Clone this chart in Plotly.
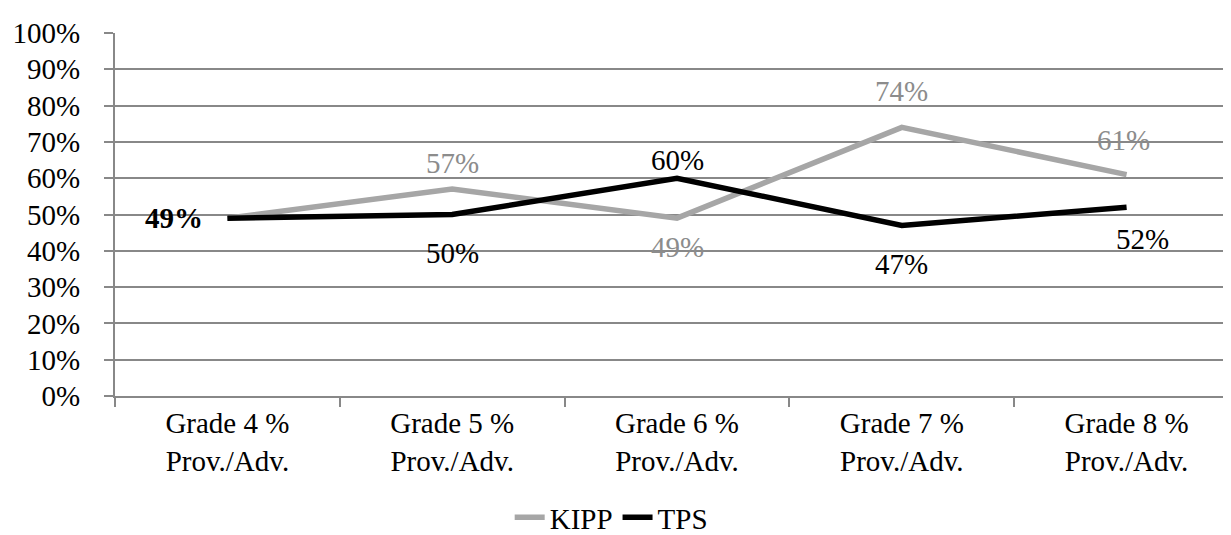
import plotly.graph_objects as go

categories = ["Grade 4 %<br>Prov./Adv.", "Grade 5 %<br>Prov./Adv.", "Grade 6 %<br>Prov./Adv.",
              "Grade 7 %<br>Prov./Adv.", "Grade 8 %<br>Prov./Adv."]
kipp = [49, 57, 49, 74, 61]
tps = [49, 50, 60, 47, 52]
y_ticks = [0, 10, 20, 30, 40, 50, 60, 70, 80, 90, 100]

FONT = "Liberation Serif"
FS = 29
KIPP_LINE = "#A6A6A6"
KIPP_TEXT = "#8C8C8C"

# label offsets (pixels) per point: (show, xshift, yshift)
kipp_lbl = [(False, 0, 0), (True, 0, 26), (True, 0, -29), (True, 0, 36), (True, -3, 35)]
tps_lbl = [(True, -22, 0), (True, 0, -38), (True, 0, 18), (True, 0, -39), (True, 16, -32)]

fig = go.Figure()
fig.add_trace(go.Scatter(x=categories, y=kipp, name="KIPP", mode="lines",
                         line=dict(color=KIPP_LINE, width=5.5)))
fig.add_trace(go.Scatter(x=categories, y=tps, name="TPS", mode="lines",
                         line=dict(color="#000000", width=5.5)))

for i, (cat, v) in enumerate(zip(categories, kipp)):
    show, xs, ys = kipp_lbl[i]
    if show:
        fig.add_annotation(x=cat, y=v, text=f"{v}%", showarrow=False, xshift=xs, yshift=ys,
                           font=dict(family=FONT, size=FS, color=KIPP_TEXT))
for i, (cat, v) in enumerate(zip(categories, tps)):
    show, xs, ys = tps_lbl[i]
    if i == 0:
        fig.add_annotation(x=cat, y=v, text=f"<b>{v}%</b>", showarrow=False, xshift=xs, yshift=ys,
                           xanchor="right", font=dict(family=FONT, size=FS, color="black"))
    else:
        fig.add_annotation(x=cat, y=v, text=f"{v}%", showarrow=False, xshift=xs, yshift=ys,
                           font=dict(family=FONT, size=FS, color="black"))

fig.update_layout(
    width=1231, height=535,
    margin=dict(l=107, r=0, t=25, b=147),
    paper_bgcolor="white", plot_bgcolor="white",
    font=dict(family=FONT, size=FS, color="black"),
    showlegend=True,
    legend=dict(orientation="h", xref="container", x=0.49, xanchor="center",
                yref="container", y=0.0, yanchor="bottom",
                font=dict(family=FONT, size=FS, color="black"),
                itemwidth=30, tracegroupgap=0),
)
fig.update_xaxes(type="category", range=[-0.5, 4.5], showline=True, linecolor="#888888",
                 linewidth=2, ticks="outside", tickson="boundaries", ticklen=9,
                 tickcolor="#888888", tickwidth=2, showgrid=False,
                 tickfont=dict(family=FONT, size=FS, color="black"))
fig.update_yaxes(range=[0, 100], tickvals=y_ticks, ticktext=[f"{v}%" for v in y_ticks],
                 showline=True, linecolor="#888888", linewidth=2,
                 ticks="outside", ticklen=9, tickcolor="#888888", tickwidth=2,
                 ticklabelstandoff=18,
                 showgrid=True, gridcolor="#888888", gridwidth=2, zeroline=False,
                 tickfont=dict(family=FONT, size=FS, color="black"))

fig.write_html("out.html")
